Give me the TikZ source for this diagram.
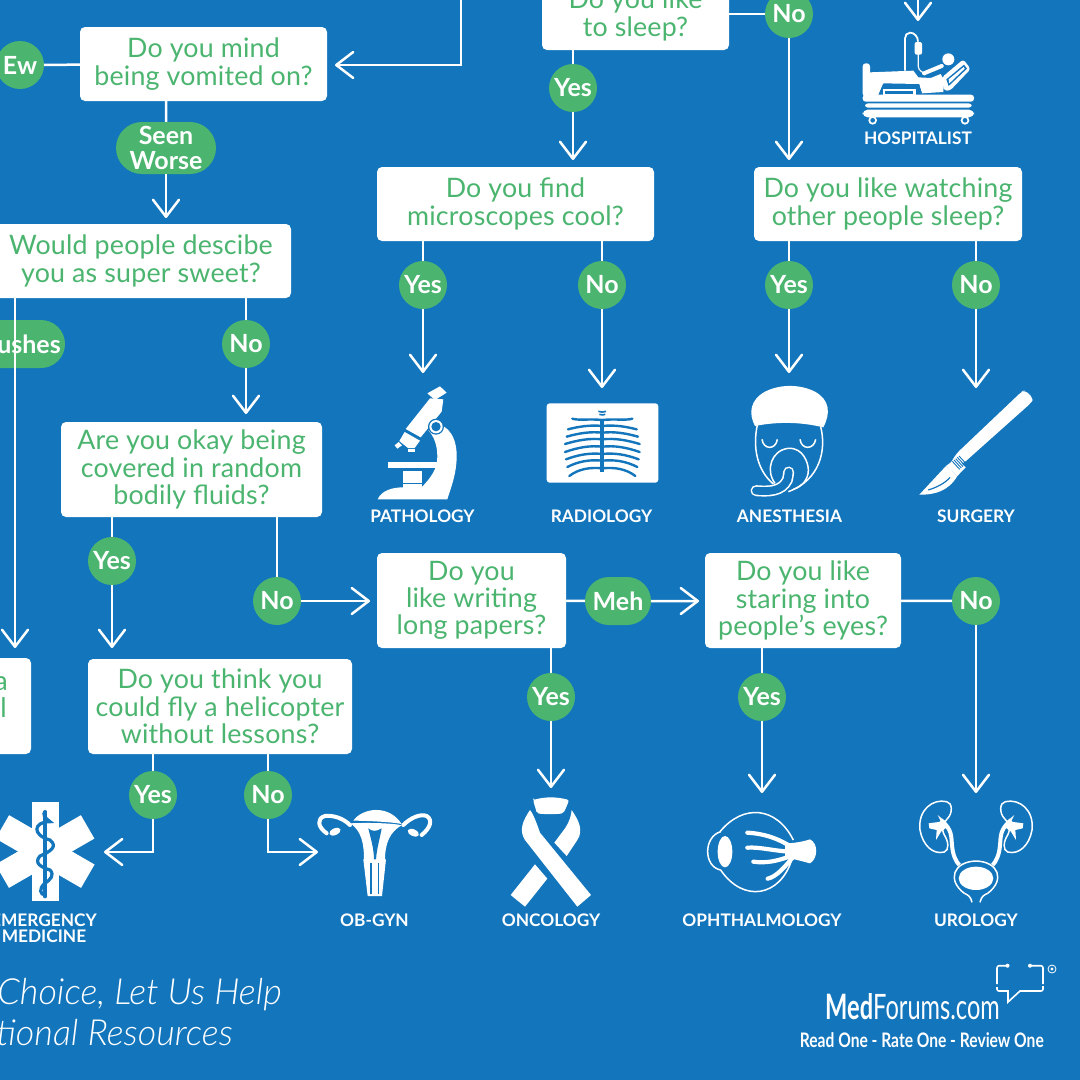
\documentclass[tikz,border=0pt]{standalone}
\usepackage{fontspec}
\setmainfont{Lato}
\newfontfamily\lightfont{Lato Light}
\usetikzlibrary{arrows.meta,shapes.geometric,shapes.misc}
\definecolor{bgblue}{HTML}{1375BC}
\definecolor{okgreen}{HTML}{4BB570}
\tikzset{
  x=1pt,y=-1pt,
  >={Straight Barb[length=17pt,width=26pt,line width=2.5pt,round]},
  qbox/.style={draw=none,fill=white,rounded corners=5pt,text=okgreen,align=center,inner sep=0pt,
     font=\fontsize{26.8}{27.3}\selectfont\addfontfeature{LetterSpace=0.7},execute at begin node=\vspace*{4pt}},
  ans/.style={circle,fill=okgreen,text=white,minimum size=48pt,inner sep=0pt,font=\fontsize{25}{25}\selectfont\bfseries},
  pill/.style={rounded rectangle,fill=okgreen,text=white,inner sep=0pt,align=center,font=\fontsize{25}{25}\selectfont\bfseries},
  spec/.style={text=white,inner sep=0pt,align=center,font=\fontsize{17.3}{16}\selectfont\bfseries},
  link/.style={draw=white,line width=2.5pt},
  thin line/.style={draw=white,line width=1.5pt,fill=none},
  zoomed/.style={shift={#1},scale=1/3}
}
\begin{document}
\begin{tikzpicture}
\useasboundingbox (0,0) rectangle (1080,1080);
\clip (0,0) rectangle (1080,1080);
\fill[bgblue] (0,0) rectangle (1080,1080);

% question boxes
\node[qbox,minimum width=247pt,minimum height=74pt] (mind) at (203.5,64) {Do you mind\\being vomited on?};
\node[qbox,minimum width=187pt,minimum height=70pt] (sleep) at (635.5,15) {Do you like\\to sleep?};
\node[qbox,minimum width=277pt,minimum height=74pt] (micro) at (515.5,204) {Do you find\\microscopes cool?};
\node[qbox,minimum width=268pt,minimum height=74pt] (watch) at (888,204) {Do you like watching\\other people sleep?};
\node[qbox,minimum width=300pt,minimum height=74pt] (sweet) at (141,261) {Would people descibe\\you as super sweet?};
\node[qbox,minimum width=261pt,minimum height=95pt] (fluid) at (191.5,469.5) {Are you okay being\\covered in random\\bodily fluids?};
\node[qbox,minimum width=189pt,minimum height=95pt] (paper) at (471.5,600.5) {Do you\\like writing\\long papers?};
\node[qbox,minimum width=196pt,minimum height=95pt] (stare) at (803,600.5) {Do you like\\staring into\\people’s eyes?};
\node[qbox,minimum width=264pt,minimum height=95pt] (heli) at (220,706.5) {Do you think you\\could fly a helicopter\\without lessons?};
\node[qbox,minimum width=81pt,minimum height=96pt] (cut) at (-9.5,706) {};
\node[text=okgreen,inner sep=0pt,font=\fontsize{27}{27}\selectfont,anchor=base east] (cuta) at (8,690) {a};
\node[text=okgreen,inner sep=0pt,font=\fontsize{27}{27}\selectfont,anchor=base east] (cutl) at (7,717) {l};

% answers
\node[ans] (ew) at (20,65) {Ew};
\node[pill,minimum width=100pt,minimum height=52pt] (seen) at (166,148) {Seen\\Worse};
\node[pill,minimum width=110pt,minimum height=48pt] (blush) at (10,344) {};
\node[text=white,inner sep=0pt,anchor=east,font=\fontsize{25}{25}\selectfont\bfseries] (blusht) at (61,344) {ushes};
\node[ans] (sw) at (246,344) {No};
\node[ans] (sly) at (573,88) {Yes};
\node[ans] (sln) at (789,14) {No};
\node[ans] (miy) at (423,285) {Yes};
\node[ans] (min) at (602,285) {No};
\node[ans] (way) at (789,285) {Yes};
\node[ans] (wan) at (976,285) {No};
\node[ans] (fly) at (112,561) {Yes};
\node[ans] (fln) at (277,601) {No};
\node[pill,minimum width=66pt,minimum height=48pt] (meh) at (618,601) {Meh};
\node[ans] (pay) at (551,697) {Yes};
\node[ans] (sty) at (762,697) {Yes};
\node[ans] (stn) at (976,601) {No};
\node[ans] (hey) at (153,795) {Yes};
\node[ans] (hen) at (268,795) {No};

% connector free ends
\coordinate (top1) at (461,0);
\coordinate (bend1) at (461,65);
\coordinate (tmind) at (335,65);
\coordinate (tsweet) at (166,218);
\coordinate (tpaper) at (370,601);
\coordinate (tstare) at (699,601);
\coordinate (top2) at (918,-2);
\coordinate (t2) at (918,21);
\coordinate (t3) at (789,160);
\coordinate (t4) at (573,160);
\coordinate (t5) at (423,373);
\coordinate (t6) at (602,388);
\coordinate (t7) at (789,373);
\coordinate (t8) at (976,388);
\coordinate (t9) at (246,414);
\coordinate (t10) at (15,648);
\coordinate (t11) at (112,648);
\coordinate (t12) at (551,788);
\coordinate (t13) at (762,793);
\coordinate (t14) at (976,793);
\coordinate (t15) at (104,852);
\coordinate (t16) at (318,852);

% connectors
\draw[link] (ew) -- (mind);
\draw[link,->] (top1) -- (bend1) -- (tmind);
\draw[link] (mind.south -| seen) -- (seen);
\draw[link,->] (seen) -- (tsweet);
\draw[link] (sweet.south -| sw) -- (sw);
\draw[link,->] (sw) -- (t9);
\draw[link,->] (sweet.south -| t10) -- (t10);
\draw[link,->] (top2) -- (t2);
\draw[link] (sleep.east |- sln) -- (sln);
\draw[link,->] (sln) -- (t3);
\draw[link] (sleep.south -| sly) -- (sly);
\draw[link,->] (sly) -- (t4);
\draw[link] (micro.south -| miy) -- (miy);
\draw[link,->] (miy) -- (t5);
\draw[link] (micro.south -| min) -- (min);
\draw[link,->] (min) -- (t6);
\draw[link] (watch.south -| way) -- (way);
\draw[link,->] (way) -- (t7);
\draw[link] (watch.south -| wan) -- (wan);
\draw[link,->] (wan) -- (t8);
\draw[link] (fluid.south -| fly) -- (fly);
\draw[link,->] (fly) -- (t11);
\draw[link] (fluid.south -| fln) -- (fln);
\draw[link,->] (fln) -- (tpaper);
\draw[link] (paper) -- (meh);
\draw[link,->] (meh) -- (tstare);
\draw[link] (stare) -- (stn);
\draw[link,->] (stn) -- (t14);
\draw[link] (paper.south -| pay) -- (pay);
\draw[link,->] (pay) -- (t12);
\draw[link] (stare.south -| sty) -- (sty);
\draw[link,->] (sty) -- (t13);
\draw[link] (heli.south -| hey) -- (hey);
\draw[link,->] (hey) |- (t15);
\draw[link] (heli.south -| hen) -- (hen);
\draw[link,->] (hen) |- (t16);

% specialty labels
\node[spec] (lhosp) at (918,138.5) {HOSPITALIST};
\node[spec] (lpath) at (422.5,516.5) {PATHOLOGY};
\node[spec] (lrad) at (601.5,516.5) {RADIOLOGY};
\node[spec] (lan) at (789.5,516.5) {ANESTHESIA};
\node[spec] (lsur) at (976,516.5) {SURGERY};
\node[spec] (lem) at (44,928.5) {EMERGENCY\\MEDICINE};
\node[spec] (lob) at (374.5,920.5) {OB-GYN};
\node[spec] (lonc) at (551,920.5) {ONCOLOGY};
\node[spec] (loph) at (762,920.5) {OPHTHALMOLOGY};
\node[spec] (luro) at (976,920.5) {UROLOGY};

% closing text
\node[text=white,inner sep=0pt,anchor=east,font=\fontsize{36}{36}\selectfont\lightfont\itshape] (close1) at (282,995) {Choice, Let Us Help};
\node[text=white,inner sep=0pt,anchor=east,font=\fontsize{36}{36}\selectfont\lightfont\itshape] (close2) at (233,1033) {tional Resources};

% logo
\node[text=white,inner sep=0pt,anchor=east,font=\fontsize{35}{35}\selectfont] (logo) at (1000,1007) {\scalebox{0.675}[1]{\textbf{Med}Forums.com}};
\node[text=white,inner sep=0pt,anchor=east,font=\fontsize{20}{20}\selectfont\bfseries] (tag) at (1044,1040) {\scalebox{0.78}[1]{Read One - Rate One - Review One}};
\draw[white,line width=1.6pt] (1006,965.7) -- (999,965.7) to[out=180,in=90] (997,968) -- (997,984);
\draw[white,line width=1.6pt] (997,987) -- (997,989) to[out=-90,in=180] (999,991) -- (1008,991) -- (1008,1002) -- (1020,991) -- (1041,991) to[out=0,in=-90] (1043,989) -- (1043,986);
\draw[white,line width=1.6pt] (1031,965.7) -- (1041,965.7) to[out=0,in=90] (1043,968) -- (1043,984);
\fill[white] (1007.5,965.7) circle (2pt) (1030,965.7) circle (2pt);
\draw[white,line width=0.8pt] (1052,969) circle (4pt);
\fill[white] (1052,969) circle (1.7pt);

% HOSPITALIST icon
\begin{scope}[zoomed={(850,0)}]
\fill[white,rounded corners=3pt] (38,190) rectangle (60,290);
\fill[white] (60,217) -- (190,212) -- (205,232) -- (242,234) -- (272,222) -- (282,240) -- (280,276) -- (215,280) -- (208,252) -- (100,250) -- (85,285) -- (60,285) -- cycle;
\draw[bgblue,line width=1.5pt] (88,285) -- (100,256) -- (205,256) -- (214,280);
\fill[white] (98,268) rectangle (198,288);
\fill[bgblue] (106,272) rectangle (190,282);
\fill[white,rounded corners=3pt] (38,284) rectangle (372,305);
\fill[white,rounded corners=3pt] (45,310) rectangle (365,323);
\fill[white,rounded corners=5pt] (38,329) rectangle (372,352);
\fill[white] (68,361) circle (13pt); \fill[bgblue] (68,361) circle (7pt);
\fill[white] (345,361) circle (13pt); \fill[bgblue] (345,361) circle (7pt);
\fill[white] (295,178) circle (18pt);
\draw[white,line width=4pt,line cap=round] (222,220) -- (275,198);
\draw[white,line width=1.8pt] (165,212) -- (165,115) to[out=90,in=180] (180,98) to[out=0,in=90] (204,125);
\draw[white,line width=1.2pt] (205,160) -- (205,200) to[out=-90,in=120] (225,225);
\fill[white,rounded corners=2pt] (194,126) rectangle (216,164);
\fill[white,rounded corners=3pt] (276,232) -- (340,178) -- (362,207) -- (300,272) -- (282,272) -- cycle;
\fill[bgblue] (289,238) -- (342,194) -- (351,206) -- (296,258) -- cycle;
\fill[white] (296,238) -- (341,201) -- (344,206) -- (298,250) -- cycle;
\end{scope}

% PATHOLOGY icon: microscope
\begin{scope}[zoomed={(340,370)}]
\fill[white] (262,70) -- (300,49) -- (320,68) -- (285,90) -- cycle;
\fill[white] (270,85) -- (310,88) -- (305,125) -- (242,202) -- (197,177) -- cycle;
\fill[white] (194,186) -- (240,212) -- (224,234) -- (204,234) -- (178,213) -- cycle;
\fill[white] (164,226) -- (176,216) -- (186,226) -- (172,236) -- cycle;
\fill[white] (204,238) rectangle (226,247);
\fill[white] (276,160) .. controls (330,160) and (352,210) .. (350,265) .. controls (348,320) and (330,360) .. (322,388) -- (113,388) .. controls (125,360) and (160,352) .. (190,352) -- (245,352) .. controls (270,325) and (292,300) .. (292,260) .. controls (292,225) and (282,200) .. (266,182) -- cycle;
\fill[bgblue] (288,170) circle (24pt);
\fill[white] (288,170) circle (20pt);
\fill[bgblue] (288,170) circle (14pt);
\fill[white] (143,275) rectangle (292,293);
\fill[white] (190,304) rectangle (245,338);
\fill[white] (190,343) rectangle (245,355);
\end{scope}

% RADIOLOGY icon: chest X-ray
\begin{scope}[zoomed={(340,370)}]
\fill[white,rounded corners=3pt] (620,100) rectangle (955,338);
\draw[bgblue,line width=4pt] (787,146) -- (787,305);
\draw[bgblue,line width=1.6pt] (775,124) to[bend right=20] (798,124);
\draw[bgblue,line width=1.6pt] (778,133) to[bend right=20] (796,133);
\foreach \sy/\oy/\ox in {150/146/697, 168/178/684, 188/200/680, 208/222/675, 230/246/675, 252/268/678, 272/291/682, 295/318/688}{
  \draw[bgblue,line width=2.4pt,line cap=round] (787,\sy) .. controls (750,\sy-4) and (715,\sy+2) .. (\ox,\oy);
  \pgfmathsetmacro{\rx}{1574-\ox}
  \draw[bgblue,line width=2.4pt,line cap=round] (787,\sy) .. controls (824,\sy-4) and (859,\sy+2) .. (\rx,\oy);
}
\end{scope}

% ANESTHESIA icon
\begin{scope}[zoomed={(700,370)}]
\draw[thin line] (172,165) .. controls (158,230) and (170,300) .. (220,342);
\draw[thin line] (362,170) .. controls (380,240) and (360,330) .. (265,365);
\fill[white] (165,168) .. controls (145,130) and (150,90) .. (195,65) .. controls (240,42) and (300,42) .. (345,65) .. controls (390,90) and (392,130) .. (370,172) .. controls (300,155) and (230,155) .. (165,168) -- cycle;
\draw[thin line] (186,208) .. controls (190,240) and (228,240) .. (232,208);
\draw[thin line] (300,208) .. controls (304,240) and (342,240) .. (347,208);
\draw[thin line] (225,340) .. controls (195,300) and (215,240) .. (265,235) .. controls (310,232) and (325,280) .. (325,300) .. controls (325,330) and (305,350) .. (280,358);
\draw[white,line width=11pt,line cap=round] (168,362) .. controls (205,365) and (245,365) .. (262,330) .. controls (265,320) and (265,312) .. (266,306);
\draw[bgblue,line width=7.8pt,line cap=round] (168,362) .. controls (205,365) and (245,365) .. (262,330) .. controls (265,320) and (265,312) .. (266,306);
\end{scope}

% SURGERY icon: scalpel
\begin{scope}[zoomed={(700,370)}]
\fill[white,rounded corners=4pt] (965,65) -- (975,60) -- (1000,85) -- (995,97) -- (790,280) -- (745,290) -- (770,250) -- cycle;
\fill[white] (738,288) -- (768,265) -- (797,292) -- (772,318) -- cycle;
\fill[white] (738,288) -- (772,318) .. controls (745,365) and (700,375) .. (658,374) -- cycle;
\draw[bgblue,line width=1.2pt] (685,360) .. controls (710,352) and (735,340) .. (750,322);
\foreach \i in {0,1,2,3,4}{
  \draw[bgblue,line width=0.9pt] (757+\i*5,274-\i*4) -- (779+\i*5,298-\i*4);
}
\end{scope}

% EMERGENCY MEDICINE icon: star of life
\begin{scope}[zoomed={(0,780)}]
\fill[white,rotate around={0:(135,215)}] (95,67) rectangle (176,363);
\fill[white,rotate around={60:(135,215)}] (95,67) rectangle (176,363);
\fill[white,rotate around={120:(135,215)}] (95,67) rectangle (176,363);
\draw[bgblue,line width=3.3pt,line cap=round] (135,95) -- (135,350);
\draw[bgblue,line width=3.2pt,line cap=round] (137,96) .. controls (125,100) and (135,115) .. (150,125) .. controls (100,125) and (95,165) .. (150,180) .. controls (175,200) and (150,215) .. (120,228) .. controls (100,250) and (125,262) .. (150,270) .. controls (165,285) and (150,300) .. (135,310) .. controls (115,325) and (120,345) .. (136,345);
\end{scope}

% OB-GYN icon
\begin{scope}[zoomed={(0,780)}]
\fill[white] (1060,122) .. controls (1085,85) and (1165,70) .. (1205,132) .. controls (1170,125) and (1090,122) .. (1060,122) -- cycle;
\fill[white] (1052,130) .. controls (1085,128) and (1175,128) .. (1205,136) .. controls (1170,155) and (1155,190) .. (1155,240) -- (1092,240) .. controls (1092,190) and (1085,155) .. (1052,130) -- cycle;
\fill[bgblue] (1105,145) .. controls (1115,155) and (1130,155) .. (1145,145) .. controls (1140,175) and (1130,205) .. (1128,240) -- (1122,240) .. controls (1122,205) and (1112,175) .. (1105,145) -- cycle;
\fill[white] (1090,238) -- (1158,238) -- (1146,348) -- (1103,348) -- cycle;
\fill[bgblue] (1110,248) rectangle (1138,342);
\fill[white] (1115,248) rectangle (1134,342);
\draw[white,line width=4pt,line cap=round,line join=round] (1050,135) .. controls (1030,115) and (1000,105) .. (975,108) .. controls (950,115) and (952,140) .. (980,160);
\draw[white,line width=4pt,line cap=round,line join=round] (1210,135) .. controls (1230,115) and (1260,100) .. (1280,108) .. controls (1300,120) and (1290,145) .. (1265,165);
\fill[white,rotate around={25:(1005,155)}] (1005,155) ellipse (18pt and 10pt);
\fill[white,rotate around={-25:(1240,158)}] (1240,158) ellipse (18pt and 10pt);
\end{scope}

% ONCOLOGY icon: ribbon
\begin{scope}[zoomed={(490,780)}]
\fill[white,rounded corners=2pt] (130,60) .. controls (165,50) and (200,50) .. (237,60) .. controls (232,75) and (225,90) .. (220,100) .. controls (195,103) and (165,103) .. (140,100) .. controls (138,88) and (132,72) .. (130,60) -- cycle;
\fill[white] (120,90) .. controls (128,100) and (135,115) .. (150,158) -- (303,345) -- (262,380) -- (105,180) .. controls (85,150) and (100,120) .. (120,90) -- cycle;
\fill[white] (245,90) .. controls (265,120) and (282,150) .. (262,180) -- (230,228) -- (193,188) -- (225,145) .. controls (238,125) and (243,110) .. (245,90) -- cycle;
\fill[white] (135,253) -- (172,296) -- (105,380) -- (62,345) -- cycle;
\end{scope}

% OPHTHALMOLOGY icon: eye
\begin{scope}[zoomed={(490,780)}]
\draw[thin line] (690,155) .. controls (760,70) and (860,80) .. (910,180);
\draw[thin line] (905,240) .. controls (870,350) and (760,370) .. (692,270);
\draw[thin line] (692,155) .. controls (640,170) and (640,260) .. (692,270);
\fill[white] (705,215) ellipse (22pt and 47pt);
\fill[white] (885,190) .. controls (910,190) and (940,185) .. (960,178) .. controls (985,190) and (985,235) .. (960,250) .. controls (940,245) and (910,235) .. (885,235) -- cycle;
\draw[white,line width=4.2pt,line cap=round] (772,158) .. controls (810,160) and (860,170) .. (910,205);
\draw[white,line width=4.2pt,line cap=round] (772,203) .. controls (810,200) and (860,215) .. (910,215);
\draw[white,line width=4.2pt,line cap=round] (790,245) .. controls (825,250) and (860,245) .. (910,225);
\draw[white,line width=4.2pt,line cap=round] (833,296) .. controls (860,290) and (885,260) .. (910,230);
\end{scope}

% UROLOGY icon: kidneys and bladder
\begin{scope}[zoomed={(780,780)}]
\begin{scope}[shift={(588,0)}]
  \draw[thin line] (-88,65) .. controls (-130,55) and (-175,90) .. (-168,150) .. controls (-160,195) and (-130,225) .. (-95,216) .. controls (-80,210) and (-82,185) .. (-95,165) .. controls (-105,145) and (-100,130) .. (-85,115) .. controls (-70,100) and (-70,68) .. (-88,65) -- cycle;
  \draw[white,line width=4pt] (-105,120) .. controls (-70,150) and (-75,170) .. (-72,195) .. controls (-70,225) and (-60,245) .. (-50,255);
  \fill[white] (-142,130) -- (-105,125) -- (-115,105) -- (-100,118) -- (-85,140) -- (-105,155) -- (-120,180) -- (-118,150) -- (-140,145) -- cycle;
\end{scope}
\begin{scope}[shift={(588,0)},xscale=-1]
  \draw[thin line] (-88,65) .. controls (-130,55) and (-175,90) .. (-168,150) .. controls (-160,195) and (-130,225) .. (-95,216) .. controls (-80,210) and (-82,185) .. (-95,165) .. controls (-105,145) and (-100,130) .. (-85,115) .. controls (-70,100) and (-70,68) .. (-88,65) -- cycle;
  \draw[white,line width=4pt] (-105,120) .. controls (-70,150) and (-75,170) .. (-72,195) .. controls (-70,225) and (-60,245) .. (-50,255);
  \fill[white] (-142,130) -- (-105,125) -- (-115,105) -- (-100,118) -- (-85,140) -- (-105,155) -- (-120,180) -- (-118,150) -- (-140,145) -- cycle;
\end{scope}
\draw[thin line] (553,340) .. controls (500,300) and (520,245) .. (588,243) .. controls (656,245) and (676,300) .. (623,340);
\draw[thin line] (553,340) .. controls (565,345) and (572,350) .. (576,367);
\draw[thin line] (623,340) .. controls (611,345) and (604,350) .. (600,367);
\fill[white] (588,295) ellipse (52pt and 35pt);
\end{scope}
\end{tikzpicture}
\end{document}
